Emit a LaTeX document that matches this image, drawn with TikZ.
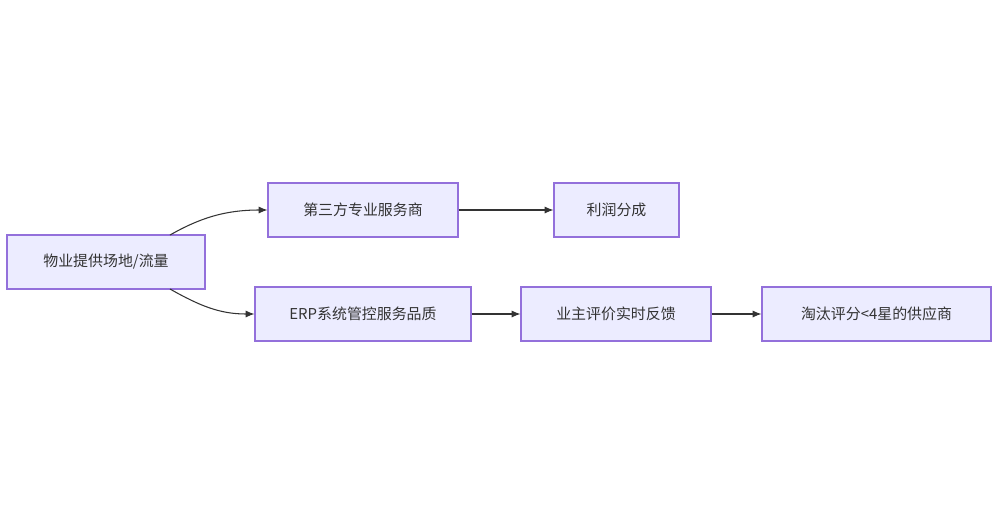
\documentclass[tikz,border=0pt]{standalone}
\usepackage{fontspec}
\setmainfont{Noto Sans CJK SC}
\usetikzlibrary{arrows.meta}
\definecolor{nfill}{HTML}{ECECFF}
\definecolor{nstroke}{HTML}{9370DB}
\definecolor{edge}{HTML}{333333}
\begin{document}
\begin{tikzpicture}[x=0.02cm,y=-0.02cm,
  box/.style={draw=nstroke,fill=nfill,line width=0.6pt,minimum height=54*0.02cm,inner sep=0pt,font=\fontsize{8.5pt}{10pt}\selectfont,text=edge},
  arr/.style={draw=edge,line width=0.6pt,-{Latex[length=5pt,width=4pt]}}]
\useasboundingbox (0,0) rectangle (1000,525);
\node[box,minimum width=198*0.02cm] (A) at (106,262) {物业提供场地/流量};
\node[box,minimum width=190*0.02cm] (B) at (363,210) {第三方专业服务商};
\node[box,minimum width=125*0.02cm] (C) at (616.5,210) {利润分成};
\node[box,minimum width=216*0.02cm] (D) at (363,314) {ERP系统管控服务品质};
\node[box,minimum width=190*0.02cm] (E) at (616,314) {业主评价实时反馈};
\node[box,minimum width=229*0.02cm] (F) at (876.5,314) {淘汰评分<4星的供应商};
\draw[arr] (170,235) .. controls (200,218) and (225,210) .. (B.west);
\draw[arr] (170,289) .. controls (200,306) and (220,314) .. (D.west);
\draw[arr] (B) -- (C);
\draw[arr] (D) -- (E);
\draw[arr] (E) -- (F);
\end{tikzpicture}
\end{document}
